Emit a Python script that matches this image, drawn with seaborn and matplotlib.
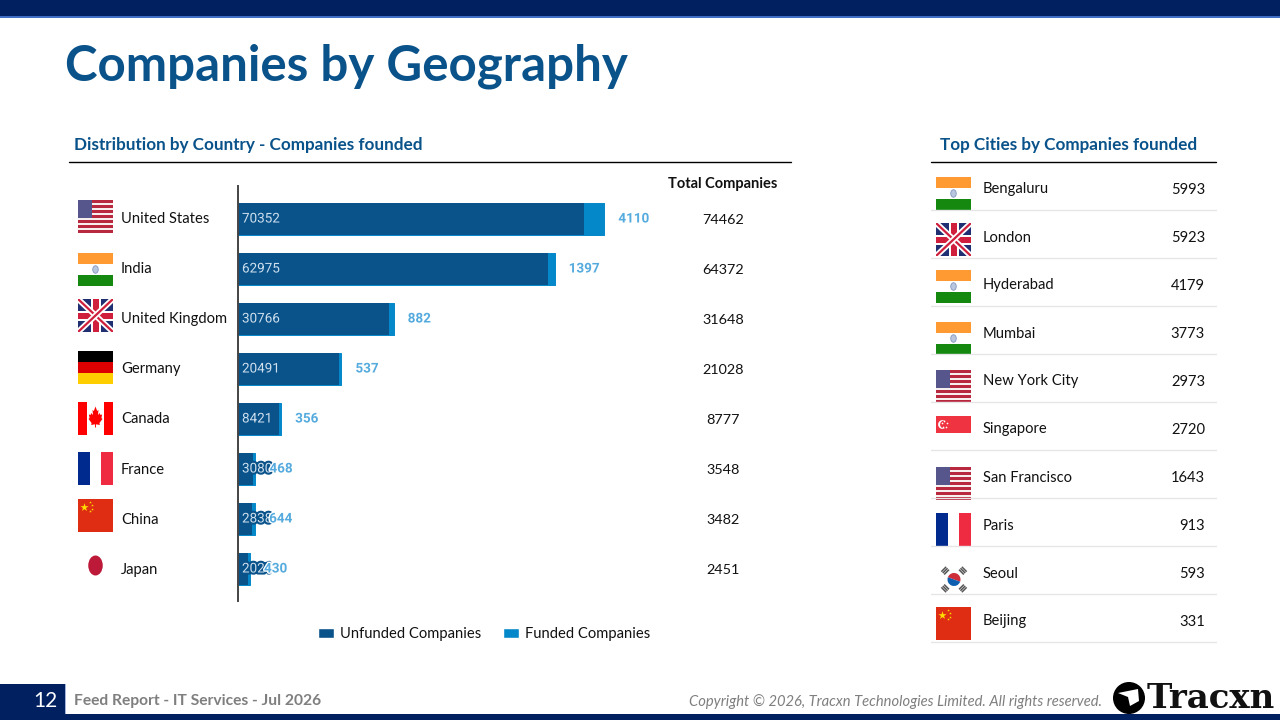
import numpy as np
import pandas as pd
import seaborn as sns
import matplotlib
matplotlib.use("Agg")
import matplotlib.pyplot as plt
import matplotlib.patheffects as pe
from matplotlib.patches import Rectangle, Ellipse, Circle, Wedge, Polygon
from matplotlib.lines import Line2D

countries = ["United States", "India", "United Kingdom", "Germany", "Canada", "France", "China", "Japan"]
unfunded = [70352, 62975, 30766, 20491, 8421, 3080, 2838, 2021]
funded = [4110, 1397, 882, 537, 356, 468, 644, 430]
totals = [74462, 64372, 31648, 21028, 8777, 3548, 3482, 2451]
country_flags = ["us", "in", "uk", "de", "ca", "fr", "cn", "jp"]

cities = ["Bengaluru", "London", "Hyderabad", "Mumbai", "New York City", "Singapore",
          "San Francisco", "Paris", "Seoul", "Beijing"]
city_counts = [5993, 5923, 4179, 3773, 2973, 2720, 1643, 913, 593, 331]
city_flags = ["in", "uk", "in", "in", "us", "sg", "us", "fr", "kr", "cn"]

NAVY = "#002060"
DARK = "#09528a"
LIGHT = "#0588ca"
LABEL_BLUE = "#55abde"
W, H = 1280, 720
FONT = ["Lato", "DejaVu Sans"]

sns.set_theme(style="white")
plt.rcParams["font.family"] = FONT

fig = plt.figure(figsize=(12.8, 7.2), dpi=100, facecolor="white")
bg = fig.add_axes([0, 0, 1, 1])
bg.set_xlim(0, W)
bg.set_ylim(H, 0)
bg.axis("off")


def rect(x, y, w, h, c, **kw):
    bg.add_patch(Rectangle((x, y), w, h, fc=c, ec="none", **kw))


def draw_flag(kind, x, y, w=35, h=33):
    if kind == "us":
        for i in range(13):
            rect(x, y + i * h / 13, w, h / 13 + 0.1, "#b8283f" if i % 2 == 0 else "#f7eeee")
        rect(x, y, w * 0.39, h * 7 / 13, "#56568c")
    elif kind == "in":
        rect(x, y, w, h / 3, "#ff9a33")
        rect(x, y + 2 * h / 3, w, h / 3, "#15880f")
        bg.add_patch(Ellipse((x + w / 2, y + h / 2), 5.5, 7.5, fc="#b9c6de", ec="#7f95c0", lw=0.6))
    elif kind == "uk":
        rect(x, y, w, h, "#1f2f72")
        box = Rectangle((x, y), w, h, transform=bg.transData)
        for pts in [((x, y), (x + w, y + h)), ((x, y + h), (x + w, y))]:
            xs, ys = zip(*pts)
            for c, lw in [("white", 4.2), ("#cf1f3c", 1.6)]:
                line = Line2D(xs, ys, color=c, lw=lw, solid_capstyle="butt")
                bg.add_line(line)
                line.set_clip_path(box)
        rect(x + w / 2 - 5, y, 10, h, "white")
        rect(x, y + h / 2 - 5, w, 10, "white")
        rect(x + w / 2 - 3, y, 6, h, "#cf1f3c")
        rect(x, y + h / 2 - 3, w, 6, "#cf1f3c")
    elif kind == "de":
        rect(x, y, w, h / 3, "#000000")
        rect(x, y + h / 3, w, h / 3, "#dd0000")
        rect(x, y + 2 * h / 3, w, h / 3, "#ffce00")
    elif kind == "ca":
        rect(x, y, w * 0.26, h, "#ff0000")
        rect(x + w * 0.74, y, w * 0.26, h, "#ff0000")
        leaf = np.array([[0, -11], [2.5, -6.5], [4.5, -7.5], [3.8, -2.5], [6.5, -4.5], [7.5, -2.5],
                         [10, -3], [9, 0.5], [10.5, 1.5], [6, 5.5], [6.5, 7.5], [0.7, 6.8],
                         [0.7, 10], [-0.7, 10], [-0.7, 6.8], [-6.5, 7.5], [-6, 5.5], [-10.5, 1.5],
                         [-9, 0.5], [-10, -3], [-7.5, -2.5], [-6.5, -4.5], [-3.8, -2.5],
                         [-4.5, -7.5], [-2.5, -6.5]])
        leaf = leaf * [0.66, 1.0] + [x + w / 2, y + h / 2 - 1]
        bg.add_patch(Polygon(leaf, fc="#ff0000", ec="none"))
    elif kind == "fr":
        rect(x, y, w / 3, h, "#012a8f")
        rect(x + 2 * w / 3, y, w / 3, h, "#ef2b41")
    elif kind == "cn":
        rect(x, y, w, h, "#de2d12")
        bg.scatter([x + 5.5], [y + 7.5], marker="*", s=38, color="#ffdc00", linewidths=0, zorder=3)
        bg.scatter([x + 12, x + 13.5, x + 13.5, x + 12], [y + 3, y + 6, y + 9.5, y + 12],
                   marker="*", s=4, color="#ffdc00", linewidths=0, zorder=3)
    elif kind == "jp":
        bg.add_patch(Ellipse((x + w / 2, y + h / 2), 14.5, 20, fc="#bd1a3a", ec="none"))
    elif kind == "sg":
        rect(x, y, w, h, "#ef3340")
        bg.add_patch(Circle((x + 6.5, y + h / 2), 4.4, fc="white", ec="none"))
        bg.add_patch(Circle((x + 8, y + h / 2), 3.9, fc="#ef3340", ec="none"))
        bg.scatter([x + 8, x + 10.5, x + 10, x + 6.5, x + 6], [y + 5, y + 7, y + 10.5, y + 10.5, y + 7],
                   s=1.5, color="white", linewidths=0, zorder=3)
    elif kind == "kr":
        cx, cy = x + w / 2 + 0.5, y + h / 2
        bg.add_patch(Wedge((cx, cy), 6.5, 200, 20, fc="#cd2e3a", ec="none"))
        bg.add_patch(Wedge((cx, cy), 6.5, 20, 200, fc="#0f5fb0", ec="none"))
        for ang in (45, 135, 225, 315):
            a = np.deg2rad(ang)
            px, py = cx + 12.5 * np.cos(a), cy + 12.5 * np.sin(a)
            for off in (-2, 0, 2):
                ux, uy = np.cos(a) * off, np.sin(a) * off
                vx, vy = -np.sin(a) * 3.4, np.cos(a) * 3.4
                bg.plot([px + ux - vx, px + ux + vx], [py + uy - vy, py + uy + vy],
                        color="#555555", lw=1.1, solid_capstyle="butt")


# page furniture
rect(0, 0, W, 16, NAVY)
rect(0, 16, W, 2, "#3f6fc4")
rect(0, 714, W, 6, NAVY)
rect(0, 684, 65, 30, NAVY)
rect(65, 684, 1, 30, "#9fb4d8")

bg.text(65, 66, "Companies by Geography", fontsize=35.5, fontweight="bold", color=DARK, va="center", ha="left")
bg.text(74, 145, "Distribution by Country - Companies founded", fontsize=12.35, fontweight="bold",
        color=DARK, va="center")
bg.text(940, 145, "Top Cities by Companies founded", fontsize=12.35, fontweight="bold", color=DARK, va="center")
bg.plot([69, 791], [162, 162], color="black", lw=1)
bg.plot([931, 1216], [162, 162], color="black", lw=1)
bg.text(723, 184, "Total Companies", fontsize=10.5, fontweight="bold", color="#111111", ha="center", va="center")

# country table
label_y = [219, 269, 319, 369, 419, 470, 520, 570]
flag_y = [200, 253, 299, 351, 402, 452, 499, 549]
total_y = [220.5, 270.5, 320.5, 369.5, 419.5, 469.5, 519.5, 569.5]
for name, kind, total, ly, fy, ty in zip(countries, country_flags, totals, label_y, flag_y, total_y):
    draw_flag(kind, 78, fy)
    bg.text(121, ly, name, fontsize=10.6, color="#111111", va="center")
    bg.text(723, ty, str(total), fontsize=10.4, color="#111111", va="center", ha="center")

# city table
city_flag_y = [177, 223, 270, 322, 370, 416, 467, 513, 563, 607]
city_flag_h = [33, 33, 33, 33, 33, 17, 33, 33, 33, 33]
for i, (name, kind, n, fy, fh) in enumerate(zip(cities, city_flags, city_counts, city_flag_y, city_flag_h)):
    cy = 189.5 + 48 * i
    draw_flag(kind, 936, fy, h=fh)
    bg.text(983, cy, name, fontsize=10.6, color="#111111", va="center")
    bg.text(1205, cy, str(n), fontsize=10.6, color="#111111", va="center", ha="right")
    bg.plot([931, 1216], [210 + 48 * i] * 2, color="#e6e6e6", lw=1)

# bars
ax = fig.add_axes([238 / W, 1 - 601 / H, 420 / W, 415 / H])
ax.patch.set_alpha(0)
df = pd.DataFrame({"Country": countries, "Unfunded": unfunded, "Funded": funded, "Total": totals})
sns.barplot(data=df, x="Total", y="Country", color=LIGHT, saturation=1, width=0.63, ax=ax,
            edgecolor=LIGHT, linewidth=0.7)
for p in ax.patches:
    p.set_joinstyle("round")
sns.barplot(data=df, x="Unfunded", y="Country", color=DARK, saturation=1, width=0.65, ax=ax, linewidth=0)
ax.set_xlim(0, 420 / 0.00492)
ax.set_ylim(7.64, -0.66)
ax.set_xlabel("")
ax.set_ylabel("")
ax.set_xticks([])
ax.set_yticks([])
sns.despine(ax=ax, top=True, right=True, bottom=True)
ax.spines["left"].set_color("#444444")
ax.spines["left"].set_linewidth(1.4)

for i, u in enumerate(unfunded):
    ax.annotate(str(u), (0, i), xytext=(4, 0), textcoords="offset pixels", va="center", ha="left",
                fontsize=9.7, family="Roboto", color="#cfe0ee",
                path_effects=[pe.withStroke(linewidth=3, foreground=DARK)])
for i, (f, t) in enumerate(zip(funded, totals)):
    ax.annotate(str(f), (t, i), xytext=(14, 0), textcoords="offset pixels", va="center", ha="left",
                fontsize=9.7, family="Roboto", fontweight="bold", color=LABEL_BLUE,
                path_effects=[pe.withStroke(linewidth=2, foreground="white")])

handles = [Rectangle((0, 0), 1, 1, fc=DARK), Rectangle((0, 0), 1, 1, fc=LIGHT)]
fig.legend(handles, ["Unfunded Companies", "Funded Companies"], ncol=2, frameon=False,
           loc="center", bbox_to_anchor=(484 / W, 1 - 634 / H), fontsize=10.6, handlelength=1.05,
           handleheight=0.62, handletextpad=0.42, columnspacing=1.5, labelcolor="#111111")

# footer
bg.text(45, 701, "12", fontsize=15, color="white", ha="center", va="center")
bg.text(74, 701, "Feed Report - IT Services - Jul 2026", fontsize=11.25, fontweight="bold", color="#7f7f7f", va="center")
bg.text(1102, 702, "Copyright \u00a9 2026, Tracxn Technologies Limited. All rights reserved.", fontsize=10.6,
        style="italic", color="#7f7f7f", ha="right", va="center")
bg.add_patch(Circle((1129, 698), 16, fc="black", ec="none"))
bg.add_patch(Polygon([[1118, 693], [1138, 689], [1139, 701], [1130, 706], [1128, 697]], fc="white", ec="none"))
bg.text(1147, 698, "Tracxn", fontsize=24.5, fontweight="bold", family="DejaVu Serif", color="#111111",
        va="center", ha="left")

fig.savefig("out.png", dpi=100)
